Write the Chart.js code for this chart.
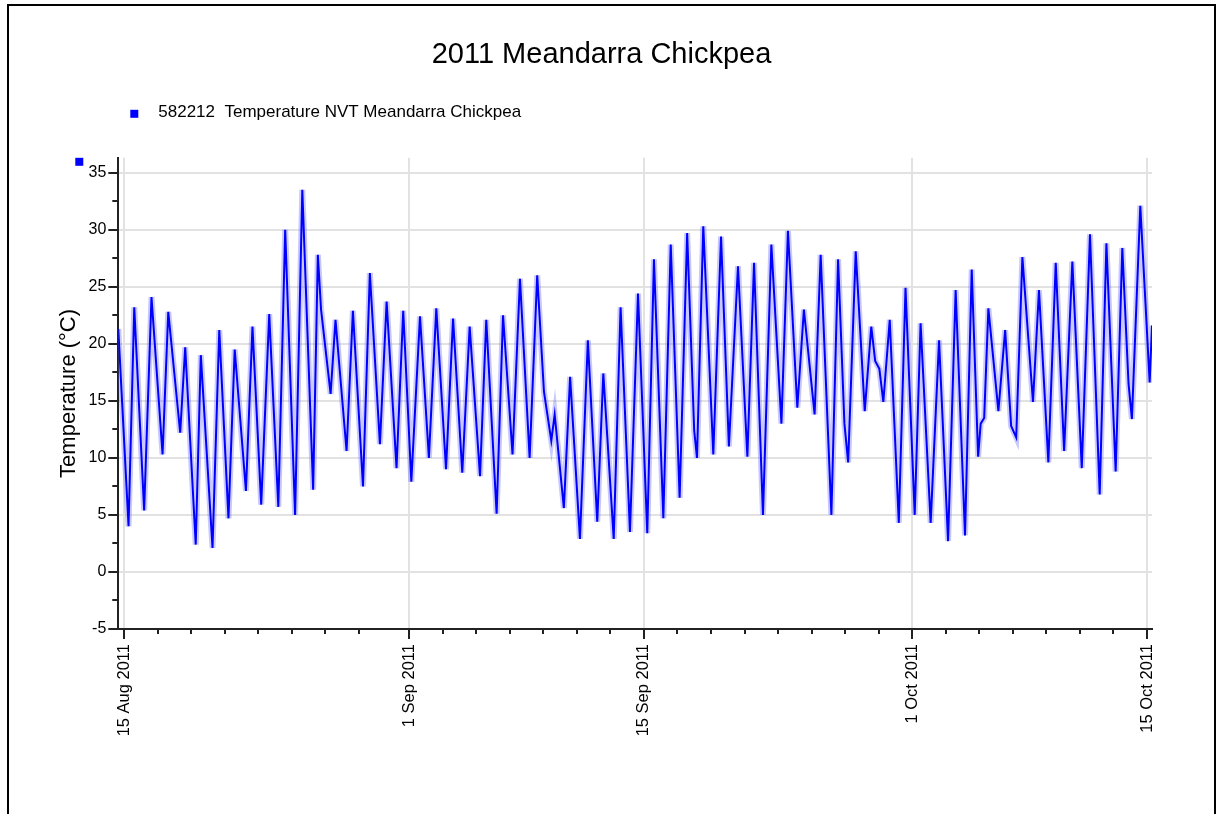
<!DOCTYPE html>
<html>
<head>
<meta charset="utf-8">
<title>2011 Meandarra Chickpea</title>
<script src="https://cdn.jsdelivr.net/npm/chart.js@4.4.1/dist/chart.umd.min.js"></script>
<style>
html, body { margin: 0; padding: 0; background: #fff; }
#c { position: absolute; left: 0; top: 0; }
#frame { position: absolute; left: 7px; top: 4px; width: 1205px; height: 840px; border: 2px solid #000; pointer-events: none; }
</style>
</head>
<body>
<canvas id="c" width="1220" height="814"></canvas>
<div id="frame"></div>
<script>
var chartTitle = '2011 Meandarra Chickpea';
var seriesName = '582212  Temperature NVT Meandarra Chickpea';
var yTitle = 'Temperature (°C)';

// readings, 2011, 'MM-DD HH:MM'
var times = [
	'08-14 15:50','08-15 06:30','08-15 14:40','08-16 04:50','08-16 15:20','08-17 07:10','08-17 15:20','08-18 08:25',
	'08-18 15:35','08-19 06:40','08-19 13:55','08-20 06:40','08-20 16:20','08-21 05:30','08-21 14:25','08-22 06:30',
	'08-22 15:50','08-23 04:20','08-23 15:50','08-24 04:50','08-24 14:40','08-25 04:50','08-25 15:10','08-26 06:40',
	'08-26 13:25','08-26 18:00','08-27 07:40','08-27 14:40','08-28 06:30','08-28 15:35','08-29 06:00','08-29 15:50',
	'08-30 06:15','08-30 15:50','08-31 06:00','08-31 15:35','09-01 03:10','09-01 15:35','09-02 04:20','09-02 14:55',
	'09-03 04:50','09-03 14:55','09-04 04:05','09-04 14:40','09-05 05:30','09-05 14:25','09-06 05:15','09-06 14:25',
	'09-07 04:00','09-07 14:40','09-08 04:30','09-08 15:20','09-09 01:00','09-09 11:30','09-09 16:20','09-10 05:30',
	'09-10 14:25','09-11 04:30','09-11 15:50','09-12 05:15','09-12 13:55','09-13 04:50','09-13 14:40','09-14 04:05',
	'09-14 15:35','09-15 04:50','09-15 14:25','09-16 03:50','09-16 14:25','09-17 03:10','09-17 13:55','09-18 00:00',
	'09-18 04:00','09-18 13:00','09-19 03:20','09-19 14:25','09-20 01:40','09-20 14:40','09-21 04:05','09-21 13:40',
	'09-22 02:25','09-22 14:25','09-23 04:50','09-23 14:10','09-24 03:35','09-24 13:00','09-25 04:20','09-25 13:00',
	'09-26 04:20','09-26 13:55','09-26 23:00','09-27 04:20','09-27 15:10','09-28 04:05','09-28 13:25','09-28 19:00',
	'09-29 01:00','09-29 06:40','09-29 15:50','09-30 04:50','09-30 14:25','10-01 03:35','10-01 12:00','10-02 02:25',
	'10-02 14:25','10-03 03:20','10-03 14:10','10-04 03:35','10-04 13:10','10-04 22:20','10-05 02:00','10-05 07:00',
	'10-05 13:00','10-06 03:20','10-06 13:00','10-06 21:35','10-07 04:50','10-07 13:40','10-08 04:50','10-08 13:25',
	'10-09 02:50','10-09 13:25','10-10 01:25','10-10 13:10','10-11 02:40','10-11 14:25','10-12 04:20','10-12 13:55',
	'10-13 03:10','10-13 12:40','10-13 21:35','10-14 02:25','10-14 14:25','10-15 03:50','10-15 07:10'
];
var temps = [
	21.3, 4.0, 23.2, 5.4, 24.1, 10.3, 22.8, 12.2,
	19.7, 2.4, 19.0, 2.1, 21.2, 4.7, 19.5, 7.1,
	21.5, 5.9, 22.6, 5.7, 30.0, 5.0, 33.5, 7.2,
	27.8, 23.0, 15.6, 22.1, 10.6, 22.9, 7.5, 26.2,
	11.2, 23.7, 9.1, 22.9, 7.9, 22.4, 10.0, 23.1,
	9.0, 22.2, 8.7, 21.5, 8.4, 22.1, 5.1, 22.5,
	10.3, 25.7, 10.0, 26.0, 15.8, 11.5, 13.8, 5.6,
	17.1, 2.9, 20.3, 4.4, 17.4, 2.9, 23.2, 3.5,
	24.4, 3.4, 27.4, 4.7, 28.7, 6.5, 29.7, 12.4,
	10.0, 30.3, 10.3, 29.4, 11.0, 26.8, 10.1, 27.1,
	5.0, 28.7, 13.0, 29.9, 14.4, 23.0, 13.8, 27.8,
	5.0, 27.4, 13.0, 9.6, 28.1, 14.1, 21.5, 18.5,
	17.8, 14.9, 22.1, 4.3, 24.9, 5.0, 21.8, 4.3,
	20.3, 2.7, 24.7, 3.2, 26.5, 10.1, 13.0, 13.5,
	23.1, 14.1, 21.2, 12.8, 11.8, 27.6, 14.9, 24.7,
	9.6, 27.1, 10.6, 27.2, 9.1, 29.6, 6.8, 28.8,
	8.8, 28.4, 16.5, 13.4, 32.1, 16.6, 21.6
];

var tickDates = ['08-15', '09-01', '09-15', '10-01', '10-15'];
var tickLabels = ['15 Aug 2011', '1 Sep 2011', '15 Sep 2011', '1 Oct 2011', '15 Oct 2011'];
var minorDates = ['08-17','08-19','08-21','08-23','08-25','08-27','08-29',
	'09-03','09-05','09-07','09-09','09-11','09-13',
	'09-17','09-19','09-21','09-23','09-25','09-27','09-29',
	'10-03','10-05','10-07','10-09','10-11','10-13'];
var yTicks = [-5, 0, 5, 10, 15, 20, 25, 30, 35];
var yMinor = [-2.5, 2.5, 7.5, 12.5, 17.5, 22.5, 27.5, 32.5];

// days since 15 Aug 2011 00:00
function toDay(s) {
	var mo = +s.slice(0, 2), d = +s.slice(3, 5);
	var h = s.length > 5 ? +s.slice(6, 8) : 0, mi = s.length > 5 ? +s.slice(9, 11) : 0;
	return (Date.UTC(2011, mo - 1, d, h, mi) - Date.UTC(2011, 7, 15)) / 86400000;
}

var points = times.map(function(t, i) { return {x: toDay(t), y: temps[i]}; });
var tickDays = tickDates.map(toDay);
var minorDays = minorDates.map(toDay);

var FONT = "'Liberation Sans', Arial, sans-serif";
Chart.defaults.font.family = FONT;
Chart.defaults.color = '#000';

// legend row, small marker and the short minor tick marks
var extras = {
	id: 'extras',
	afterDraw: function(chart) {
		var ctx = chart.ctx, a = chart.chartArea, ds = chart.data.datasets[0];
		var xs = chart.scales.x, ys = chart.scales.y;
		ctx.save();
		ctx.fillStyle = ds.borderColor;
		ctx.fillRect(a.left + 12, a.top - 48, 8, 8);
		ctx.fillRect(a.left - 43, a.top, 8, 8);
		ctx.fillStyle = '#000';
		ctx.font = '17px ' + FONT;
		ctx.textBaseline = 'middle';
		ctx.fillText(ds.label, a.left + 40, a.top - 45);

		ctx.strokeStyle = '#222';
		ctx.lineWidth = 2;
		ctx.beginPath();
		minorDays.forEach(function(d) {
			var px = Math.round(xs.getPixelForValue(d));
			ctx.moveTo(px, a.bottom);
			ctx.lineTo(px, a.bottom + 5);
		});
		yMinor.forEach(function(v) {
			var py = Math.round(ys.getPixelForValue(v));
			ctx.moveTo(a.left - 6, py);
			ctx.lineTo(a.left, py);
		});
		ctx.stroke();
		ctx.restore();
	}
};

var chart = new Chart(document.getElementById('c'), {
	type: 'line',
	data: {
		datasets: [
			{
				label: seriesName,
				data: points,
				borderColor: '#0000ff',
				borderWidth: 2,
				pointRadius: 0,
				tension: 0
			},
			{
				label: seriesName,
				data: points,
				borderColor: 'rgba(100,100,255,0.35)',
				borderWidth: 6,
				pointRadius: 0,
				tension: 0
			}
		]
	},
	options: {
		responsive: false,
		animation: false,
		layout: {padding: {left: 51, right: 68, top: 0, bottom: 0}},
		plugins: {
			legend: {display: false},
			tooltip: {enabled: false},
			title: {
				display: true,
				text: chartTitle,
				color: '#000',
				font: {size: 29, weight: 'normal'},
				padding: {top: 38, bottom: 85}
			}
		},
		scales: {
			x: {
				type: 'linear',
				min: points[0].x,
				max: points[points.length - 1].x,
				afterBuildTicks: function(s) { s.ticks = tickDays.map(function(v) { return {value: v}; }); },
				afterFit: function(s) { s.height = 185; },
				ticks: {
					autoSkip: false,
					minRotation: 90,
					maxRotation: 90,
					padding: 5,
					color: '#000',
					font: {size: 16.5},
					callback: function(v, i) { return tickLabels[i]; }
				},
				grid: {color: '#e2e2e2', lineWidth: 2, tickColor: '#222', tickLength: 10, tickWidth: 2},
				border: {color: '#222', width: 2}
			},
			y: {
				min: -5,
				max: 36.3,
				afterBuildTicks: function(s) { s.ticks = yTicks.map(function(v) { return {value: v}; }); },
				afterFit: function(s) { s.width = 67.3; },
				ticks: {padding: 2, color: '#000', font: {size: 16}},
				grid: {color: '#e2e2e2', lineWidth: 2, tickColor: '#222', tickLength: 10, tickWidth: 2},
				border: {color: '#222', width: 2},
				title: {
					display: true,
					text: yTitle,
					color: '#000',
					font: {size: 22},
					padding: {top: 5, bottom: 0}
				}
			}
		}
	},
	plugins: [extras]
});
</script>
</body>
</html>
